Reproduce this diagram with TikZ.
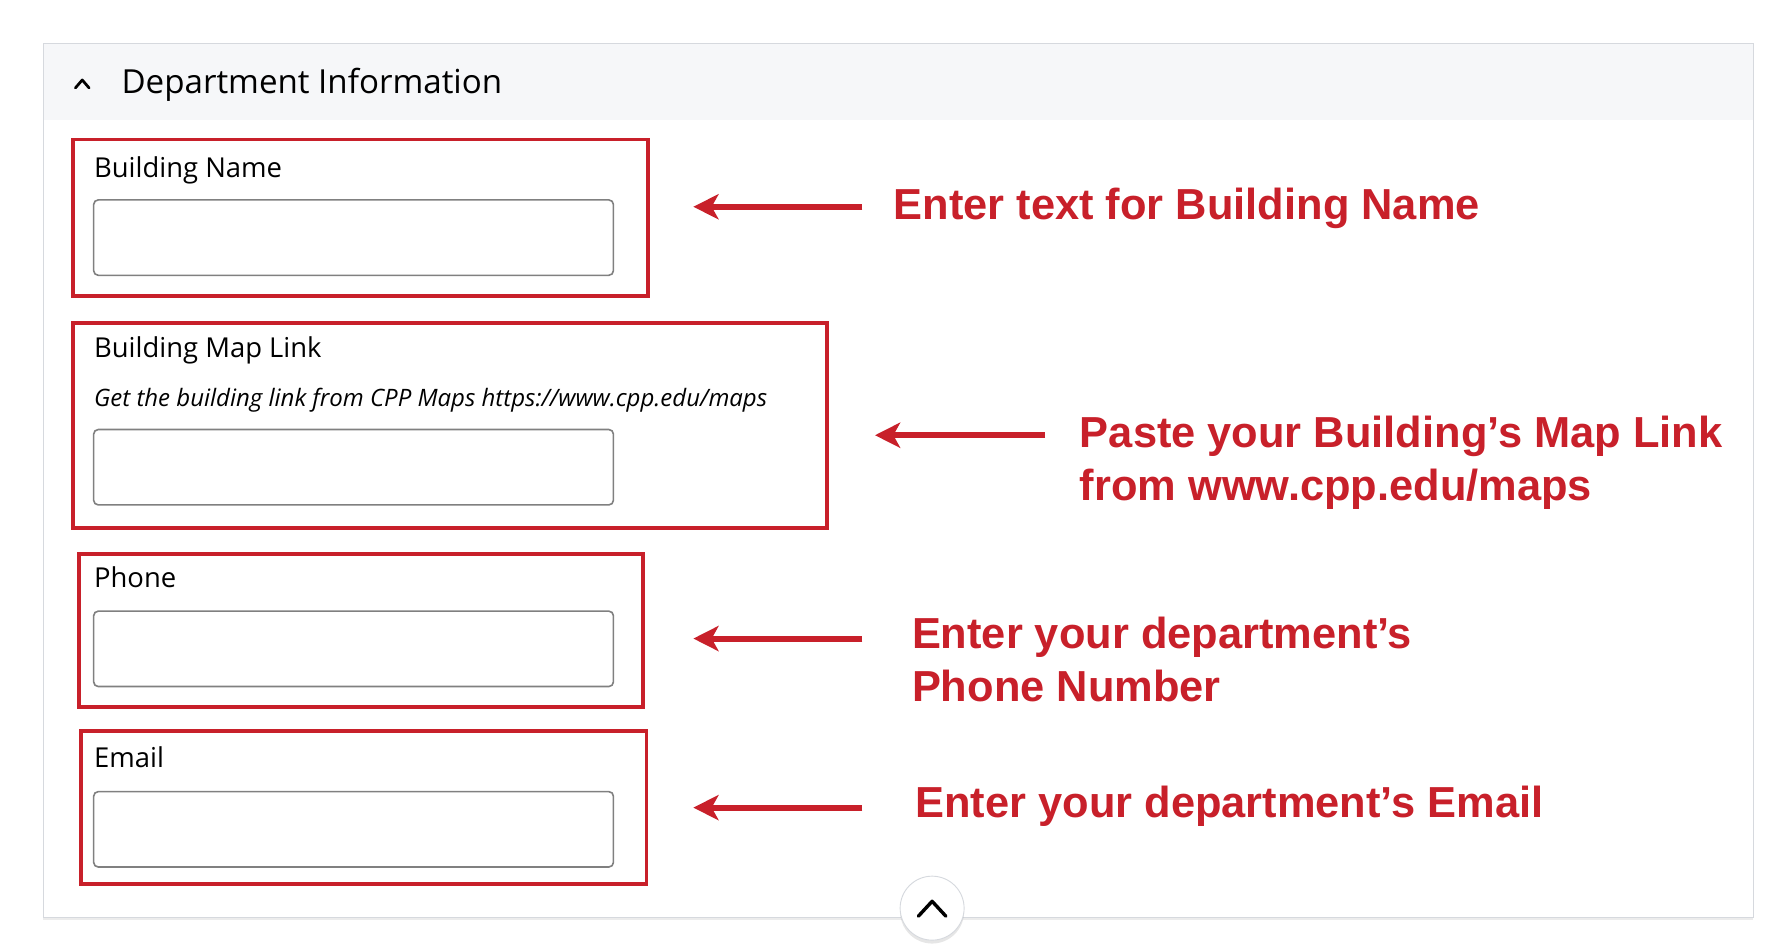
\documentclass[tikz,border=0pt]{standalone}
\usepackage{fontspec}
\setmainfont{Open Sans}
\newfontfamily\notefont{Liberation Sans}
\usetikzlibrary{arrows.meta,shadows}
\definecolor{cppred}{RGB}{200,32,42}
\definecolor{panelgray}{RGB}{246,247,249}
\definecolor{edgegray}{RGB}{214,217,222}
\definecolor{fieldgray}{RGB}{128,128,128}
\tikzset{
  frame/.style={draw=cppred, line width=1.6pt},
  field/.style={draw=fieldgray, line width=0.7pt, rounded corners=2pt},
  label/.style={anchor=base west, inner sep=0pt, font=\fontsize{12}{14}\selectfont},
  note/.style={anchor=base west, inner sep=0pt, text=cppred, align=left,
    font=\notefont\bfseries\fontsize{19}{23}\selectfont},
  pointer/.style={draw=cppred, line width=2.6pt, -{Stealth[length=11pt,width=11pt,inset=3pt]}}
}
\begin{document}
\begin{tikzpicture}[x=0.5pt,y=0.5pt,yscale=-1]
\useasboundingbox (0,0) rectangle (1560,826);

% panel
\draw[draw=edgegray, fill=white, drop shadow={opacity=0.15,shadow xshift=0pt,shadow yshift=-1pt}] (38,38) rectangle (1535,803);
\fill[panelgray] (38.5,38.5) rectangle (1534.5,105);
\draw[line width=1.2pt, line cap=round, line join=round] (66,77) -- (72,70) -- (78,77);
\node (title) [anchor=base west, inner sep=0pt, font=\fontsize{14.5}{17}\selectfont] at (106,82) {Department Information};

% fields
\draw[frame] (64,122) rectangle (567,259);
\node (lname) [label] at (82,155) {Building Name};
\draw[field] (82,175) rectangle (537,241);

\draw[frame] (64,283) rectangle (724,462);
\node (lmap) [label] at (82,313) {Building Map Link};
\node (hint) [label, font=\fontsize{10.5}{12}\selectfont\itshape] at (82,356) {Get the building link from CPP Maps https://www.cpp.edu/maps};
\draw[field] (82,376) rectangle (537,442);

\draw[frame] (69,485) rectangle (563,619);
\node (lphone) [label] at (82,514) {Phone};
\draw[field] (82,535) rectangle (537,601);

\draw[frame] (71,640) rectangle (566,774);
\node (lmail) [label] at (82,672) {Email};
\draw[field] (82,693) rectangle (537,759);

% notes
\coordinate (a1) at (755,181); \coordinate (b1) at (607,181);
\coordinate (a2) at (915,381); \coordinate (b2) at (766,381);
\coordinate (a3) at (755,559); \coordinate (b3) at (607,559);
\coordinate (a4) at (755,707); \coordinate (b4) at (607,707);
\draw[pointer] (a1) -- (b1);
\draw[pointer] (a2) -- (b2);
\draw[pointer] (a3) -- (b3);
\draw[pointer] (a4) -- (b4);
\node (n1) [note] at (782,192) {Enter text for Building Name};
\node (n2) [note] at (945,438) {Paste your Building’s Map Link\\from www.cpp.edu/maps};
\node (n3) [note] at (798,614) {Enter your department’s\\Phone Number};
\node (n4) [note] at (801,716) {Enter your department’s Email};

% collapse button
\node (up) [circle, minimum size=28pt, fill=white, draw=edgegray, drop shadow={opacity=0.2,shadow xshift=0pt,shadow yshift=-1.5pt}] at (816,795) {};
\draw[line width=1.5pt, line cap=round, line join=round] ([shift={(-12,7)}]up.center) -- ([shift={(0,-6)}]up.center) -- ([shift={(12,7)}]up.center);
\end{tikzpicture}
\end{document}
